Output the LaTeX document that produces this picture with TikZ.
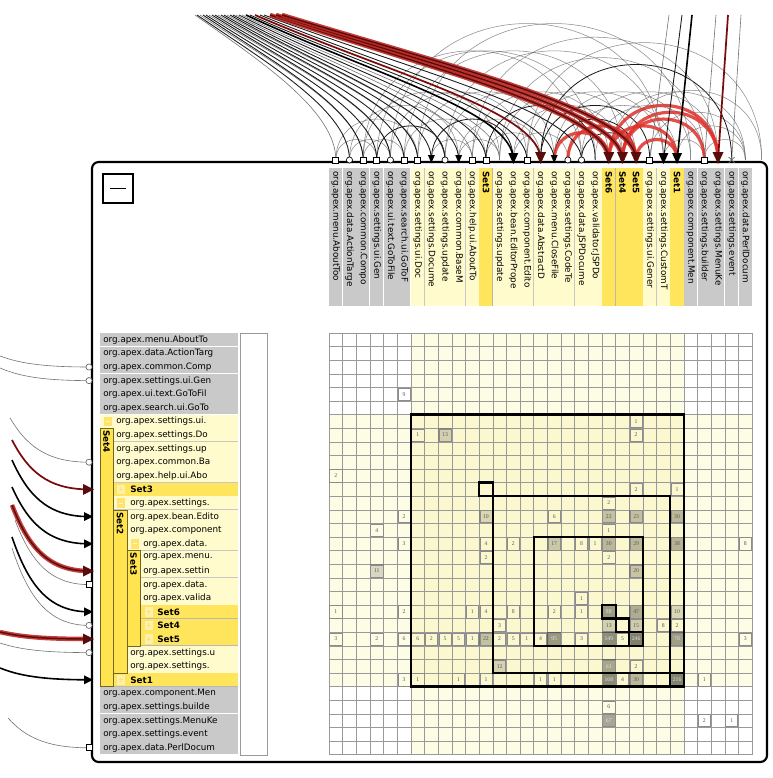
\documentclass[tikz,border=0pt]{standalone}
\usepackage{fontspec}
\setmainfont{DejaVu Sans}
\newfontfamily\numfont{Liberation Serif}
\usetikzlibrary{arrows.meta}
\definecolor{colg}{HTML}{C9C9C9}
\definecolor{coll}{HTML}{FFFBCC}
\definecolor{coly}{HTML}{FFE55C}
\definecolor{colbar}{HTML}{FFE34F}
\definecolor{colbox}{HTML}{FFE46B}
\definecolor{band}{HTML}{FDFCE4}
\definecolor{bandx}{HTML}{FBF8D0}
\definecolor{arcred}{HTML}{E0302A}
\definecolor{darkred}{HTML}{5A0C0C}
\newcommand\lblfont{\fontsize{6.6}{7}\selectfont}
\begin{document}
\begin{tikzpicture}[x=0.75pt,y=-0.75pt,
  arcg/.style={draw=black!60, line width=0.4pt, draw opacity=0.75},
  arcd/.style={draw=black!90, line width=0.6pt},
  arcr/.style={draw=arcred, line width=2.4pt, draw opacity=0.85},
  lcg/.style={draw=black!55, line width=0.45pt},
  lcd/.style={draw=black!90, line width=0.65pt},
  lct/.style={draw=black, line width=1.2pt},
  lcdr/.style={draw=darkred!80!red, line width=1.3pt},
  lcr/.style={preaction={draw=arcred!85!black, line width=3.4pt, draw opacity=0.9}, draw=darkred, line width=1.1pt},
  gridl/.style={draw=black!40, line width=0.45pt},
  setbox/.style={draw=black, line width=1.7pt},
  cellbd/.style={draw=black!45, line width=0.5pt},
  txtg/.style={font=\lblfont, inner sep=0pt, text=black},
  txtl/.style={font=\lblfont, inner sep=0pt, text=black},
  txty/.style={font=\lblfont\bfseries, inner sep=0pt, text=black},
  sepg/.style={draw=white, line width=0.7pt},
  sepl/.style={draw=black!22, line width=0.5pt},
  sepy/.style={draw=black!28, line width=0.5pt},
  mk/.style={draw=black, line width=0.5pt, fill=white}]
\fill[white] (0,0) rectangle (772,778);
\useasboundingbox (0,0) rectangle (772,778);

% ---------- arcs among columns (top) ----------
\foreach \pa/\pb/\sty in {1/7/arcg,2/10/arcg,3/13/arcg,4/9/arcd,5/15/arcg,6/12/arcg,7/17/arcg,8/14/arcd,9/19/arcg,10/16/arcg,11/21/arcg,12/20/arcd,13/23/arcg,14/22/arcg,15/25/arcg,16/24/arcd,17/27/arcg,18/26/arcg,19/29/arcg,20/28/arcg,21/31/arcg,24/31/arcg,26/31/arcg,2/5/arcg,8/11/arcg,12/16/arcg,4/20/arcg,6/22/arcg,9/25/arcg,13/28/arcg,16/30/arcd,1/4/arcg,3/6/arcg,10/13/arcg,14/18/arcg,19/23/arcd,25/28/arcg,28/31/arcg,5/25/arcg,7/27/arcg,3/19/arcg,11/29/arcg,15/32.2/arcg,22/32.2/arcg,17/23/arcd}{
  \pgfmathsetmacro\xa{329+(\pa-0.5)*13.65}
  \pgfmathsetmacro\xb{329+(\pb-0.5)*13.65}
  \pgfmathsetmacro\hh{160-1.333*0.5*abs(\xb-\xa)}
  \draw[\sty] (\xa,160) .. controls (\xa,\hh) and (\xb,\hh) .. (\xb,160);
}
\foreach \pa/\pb in {21/29,22/29,23/26,21/26,17/21,18/23,22/28}{
  \pgfmathsetmacro\xa{329+(\pa-0.5)*13.65}
  \pgfmathsetmacro\xb{329+(\pb-0.5)*13.65}
  \pgfmathsetmacro\hh{160-1.333*0.5*abs(\xb-\xa)}
  \draw[arcr] (\xa,160) .. controls (\xa,\hh) and (\xb,\hh) .. (\xb,160);
}

% ---------- long curves from upper left ----------
\foreach \sx/\cc/\sty in {195/1/lcg,197/2/lcd,200/3/lcg,203/3/lcd,206/4/lcd,209/5/lcg,212/5/lcd,215/6/lcd,218/7/lcg,221/7/lcd,224/8/lcd,227/9/lcg,230/9/lcd,233/10/lcd,236/11/lcg,239/12/lcd,242/13/lcg,246/14/lct,250/15/lcd,255/16/lcdr,260/17/lcd,264/19/lcd,270/21/lcr,276/22/lcr,282/23/lcr}{
  \pgfmathsetmacro\ex{329+(\cc-0.5)*13.65}
  \pgfmathsetmacro\dx{\ex-\sx}
  \pgfmathsetmacro\ca{\sx+0.5*\dx}
  \pgfmathsetmacro\cb{15+0.5*\dx*(0.7-(\dx-140)*0.00185)}
  \draw[\sty] (\sx,15) .. controls (\ca,\cb) and (\ex,112) .. (\ex,160);
}
% ---------- straight lines from the top ----------
\foreach \sx/\cc/\sty in {669/24/lcg,682/25/lcd,692/26/lct,716/28/lcg,728/29/lcdr,741/30/lcg}{
  \pgfmathsetmacro\ex{329+(\cc-0.5)*13.65}
  \draw[\sty] (\sx,15) -- (\ex,160);
}
% ---------- curves from the left ----------
\foreach \rr/\sx/\sy/\sty in {3/0/356/lcg,4/0/368/lcg,10/10/418/lcg,12/12/440/lcdr,14/12/460/lct,16/12/487/lct,18/12/505/lcr,19/15/520/lcg,21/12/537/lct,22/12/548/lcg,23/0/632/lcr,24/0/643/lcg,26/0/668/lct,31/8/718/lcg}{
  \pgfmathsetmacro\ey{333+(\rr-0.5)*13.6}
  \pgfmathsetmacro\ca{\sx+0.2*(89-\sx)}
  \pgfmathsetmacro\cb{\sy+0.6*(\ey-\sy)}
  \pgfmathsetmacro\cc{\sx+0.45*(89-\sx)}
  \draw[\sty] (\sx,\sy) .. controls (\ca,\cb) and (\cc,\ey) .. (89,\ey);
}

% ---------- panel ----------
\draw[line width=1.6pt, fill=white, rounded corners=5pt] (92,162) rectangle (767,762);
\draw[line width=1.2pt] (103,174) rectangle (133,203);
\draw[line width=1.2pt] (110,188.5) -- (126,188.5);

% ---------- column headers ----------
\foreach \cc/\kk/\tx in {1/g/org.apex.menu.AboutToo,2/g/org.apex.data.ActionTarge,3/g/org.apex.common.Compo,4/g/org.apex.settings.ui.Gen,5/g/org.apex.ui.text.GoToFile,6/g/org.apex.search.ui.GoToF,7/l/org.apex.settings.ui.Doc,8/l/org.apex.settings.Docume,9/l/org.apex.settings.update,10/l/org.apex.common.BaseM,11/l/org.apex.help.ui.AboutTo,12/y/Set3,13/l/org.apex.settings.update,14/l/org.apex.bean.EditorPrope,15/l/org.apex.component.Edito,16/l/org.apex.data.AbstractD,17/l/org.apex.menu.CloseFile,18/l/org.apex.settings.CodeTe,19/l/org.apex.data.JSPDocume,20/l/org.apex.validator.JSPDo,21/y/Set6,22/y/Set4,23/y/Set5,24/l/org.apex.settings.ui.Gener,25/l/org.apex.settings.CustomT,26/y/Set1,27/g/org.apex.component.Men,28/g/org.apex.settings.builder,29/g/org.apex.settings.MenuKe,30/g/org.apex.settings.event,31/g/org.apex.data.PerlDocum}{
  \pgfmathsetmacro\xl{329+(\cc-1)*13.65}
  \pgfmathsetmacro\xr{\xl+13.65}
  \pgfmathsetmacro\xm{\xl+6.825}
  \fill[col\kk] (\xl,168) rectangle (\xr,306);
  \draw[sep\kk] (\xr,168) -- (\xr,306);
  \node[txt\kk, anchor=west, rotate=-90] (col\cc) at (\xm,171) {\tx};
}

% ---------- row labels ----------
\foreach \rr/\xl/\xt/\kk/\tx in {1/100/103/g/org.apex.menu.AboutTo,2/100/103/g/org.apex.data.ActionTarg,3/100/103/g/org.apex.common.Comp,4/100/103/g/org.apex.settings.ui.Gen,5/100/103/g/org.apex.ui.text.GoToFil,6/100/103/g/org.apex.search.ui.GoTo,7/100/116/l/org.apex.settings.ui.,8/113/116/l/org.apex.settings.Do,9/113/116/l/org.apex.settings.up,10/113/116/l/org.apex.common.Ba,11/113/116/l/org.apex.help.ui.Abo,12/113/130/y/Set3,13/113/130/l/org.apex.settings.,14/127/130/l/org.apex.bean.Edito,15/127/130/l/org.apex.component,16/127/143/l/org.apex.data.,17/140/143/l/org.apex.menu.,18/140/143/l/org.apex.settin,19/140/143/l/org.apex.data.,20/140/143/l/org.apex.valida,21/140/157/y/Set6,22/140/157/y/Set4,23/140/157/y/Set5,24/127/130/l/org.apex.settings.u,25/127/130/l/org.apex.settings.,26/113/130/y/Set1,27/100/103/g/org.apex.component.Men,28/100/103/g/org.apex.settings.builde,29/100/103/g/org.apex.settings.MenuKe,30/100/103/g/org.apex.settings.event,31/100/103/g/org.apex.data.PerlDocum}{
  \pgfmathsetmacro\yt{333+(\rr-1)*13.6}
  \pgfmathsetmacro\yb{\yt+13.6}
  \pgfmathsetmacro\ym{\yt+6.8}
  \fill[col\kk] (\xl,\yt) rectangle (238,\yb);
  \draw[sep\kk] (\xl,\yb) -- (238,\yb);
  \node[txt\kk, anchor=west] (row\rr) at (\xt,\ym) {\tx};
}
% expand / collapse boxes
\foreach \rr/\bx in {7/104,13/117,16/131}{
  \pgfmathsetmacro\yt{333+(\rr-1)*13.6}
  \pgfmathsetmacro\ym{\yt+6.8}
  \fill[colbox] (\bx,\yt+2) rectangle (\bx+7.5,\yt+11.6);
  \draw[white!70!colbox, line width=0.6pt] (\bx+1.8,\ym) -- (\bx+5.7,\ym);
}
\foreach \rr/\bx in {12/117,21/145,22/145,23/145,26/117}{
  \pgfmathsetmacro\yt{333+(\rr-1)*13.6}
  \pgfmathsetmacro\ym{\yt+6.8}
  \fill[colbox!55!white] (\bx,\yt+2) rectangle (\bx+7.5,\yt+11.6);
  \draw[colbox, line width=0.6pt] (\bx+1.8,\ym) -- (\bx+5.7,\ym) (\bx+3.75,\ym-2) -- (\bx+3.75,\ym+2);
}
% set bars
\foreach \bx/\bw/\ra/\rb/\tx in {100/13/8/26/Set4,113/14/14/25/Set2,127/13/17/23/Set3}{
  \pgfmathsetmacro\yt{333+(\ra-1)*13.6}
  \pgfmathsetmacro\yb{333+\rb*13.6}
  \draw[fill=colbar, draw=colbar!45!black, line width=0.4pt] (\bx,\yt) rectangle (\bx+\bw,\yb);
  \node[txty, anchor=west, rotate=-90] (bar\tx) at (\bx+0.5*\bw,\yt+2) {\tx};
}
% scrollbar box
\draw[draw=black!40, line width=0.5pt, fill=white] (240,333) rectangle (267,755);

% ---------- matrix ----------
\fill[band] (410.9,333) rectangle (683.9,755.2);
\fill[band] (329,414.6) rectangle (752.2,686.6);
\fill[bandx] (410.9,414.6) rectangle (683.9,686.6);
\foreach \ii in {0,...,31}{
  \pgfmathsetmacro\gx{329+\ii*13.65}
  \pgfmathsetmacro\gy{333+\ii*13.6}
  \draw[gridl] (\gx,333) -- (\gx,754.6);
  \draw[gridl] (329,\gy) -- (752.2,\gy);
}
\foreach \rr/\cc/\vv in {5/6/9,8/7/1,8/9/13,11/1/2,14/6/2,14/12/10,15/4/4,16/6/3,16/12/4,16/14/2,17/12/2,18/4/11,21/1/1,21/6/2,21/11/1,21/12/4,21/14/8,22/13/3,23/1/3,23/4/2,23/6/6,23/7/6,23/8/2,23/9/5,23/10/5,23/11/1,23/12/22,23/13/2,23/14/5,23/15/1,23/16/4,25/13/12,26/6/3,26/7/1,26/10/1,26/12/1,26/16/1,26/17/1,7/23/1,8/23/2,12/23/2,12/26/1,13/21/2,14/17/6,14/21/22,14/23/23,14/26/30,15/21/1,16/17/17,16/19/8,16/20/1,16/21/30,16/23/29,16/26/38,16/31/8,17/21/2,18/23/20,20/19/1,21/17/2,21/19/1,21/21/88,21/23/47,21/26/10,22/21/13,22/23/15,22/25/8,22/26/2,23/17/95,23/19/3,23/21/149,23/22/5,23/23/246,23/26/78,23/31/3,25/21/61,25/23/2,26/21/168,26/22/4,26/23/30,26/26/216,26/28/1,28/21/6,29/21/67,29/28/2,29/30/1}{
  \pgfmathsetmacro\xl{329+(\cc-1)*13.65}
  \pgfmathsetmacro\yt{333+(\rr-1)*13.6}
  \pgfmathsetmacro\shd{\vv<10 ? 0 : (-12+11*ln(\vv))/100}
  \pgfmathtruncatemacro\txw{\vv>60 ? 88 : 35}
  \fill[black, fill opacity=\shd] (\xl,\yt) rectangle (\xl+13.65,\yt+13.6);
  \draw[cellbd] (\xl+0.7,\yt+0.7) rectangle (\xl+12.95,\yt+12.9);
  \node[font=\numfont\fontsize{4.3}{4.3}\selectfont, text=white!\txw!black, inner sep=0pt] (cell\rr-\cc) at (\xl+6.825,\yt+6.8) {\vv};
}
\foreach \ra/\rb in {7/26,12/12,13/25,16/23,21/21,22/22,23/23,26/26}{
  \pgfmathsetmacro\xl{329+(\ra-1)*13.65}
  \pgfmathsetmacro\xr{329+\rb*13.65}
  \pgfmathsetmacro\yt{333+(\ra-1)*13.6}
  \pgfmathsetmacro\yb{333+\rb*13.6}
  \draw[setbox] (\xl,\yt) rectangle (\xr,\yb);
}

% ---------- markers on the top edge ----------
\foreach \cc in {1,3,4,6,7,11,12,15,24,28}{
  \pgfmathsetmacro\mx{329+(\cc-0.5)*13.65}
  \draw[mk] (\mx-3,157.5) rectangle (\mx+3,163.5);
}
\foreach \cc in {2,5,9,18,19}{
  \pgfmathsetmacro\mx{329+(\cc-0.5)*13.65}
  \draw[mk] (\mx,160) circle[radius=2.3pt];
}
\foreach \cc in {8,10,17}{
  \pgfmathsetmacro\mx{329+(\cc-0.5)*13.65}
  \fill[black] (\mx-3.5,155) -- (\mx+3.5,155) -- (\mx,163) -- cycle;
}
\foreach \cc in {14,25,26}{
  \pgfmathsetmacro\mx{329+(\cc-0.5)*13.65}
  \fill[black] (\mx-5,153) -- (\mx+5,153) -- (\mx,164) -- cycle;
}
\foreach \cc in {16,21,22,23,29}{
  \pgfmathsetmacro\mx{329+(\cc-0.5)*13.65}
  \fill[darkred] (\mx-5.5,152) -- (\mx+5.5,152) -- (\mx,164) -- cycle;
}
\foreach \cc in {30}{
  \pgfmathsetmacro\mx{329+(\cc-0.5)*13.65}
  \draw[black!60, line width=0.5pt] (\mx-3,157) -- (\mx+3,163) (\mx+3,157) -- (\mx-3,163);
}
% ---------- markers on the left edge ----------
\foreach \rr in {19,31}{
  \pgfmathsetmacro\my{333+(\rr-0.5)*13.6}
  \draw[mk] (86,\my-3) rectangle (92,\my+3);
}
\foreach \rr in {3,4,10,22,24}{
  \pgfmathsetmacro\my{333+(\rr-0.5)*13.6}
  \draw[mk, draw=black!60] (89,\my) circle[radius=2.3pt];
}
\foreach \rr in {14,16,21,26}{
  \pgfmathsetmacro\my{333+(\rr-0.5)*13.6}
  \fill[black] (84,\my-4.5) -- (84,\my+4.5) -- (93,\my) -- cycle;
}
\foreach \rr in {12,18,23}{
  \pgfmathsetmacro\my{333+(\rr-0.5)*13.6}
  \fill[darkred] (83,\my-5.5) -- (83,\my+5.5) -- (94,\my) -- cycle;
}
\end{tikzpicture}
\end{document}
